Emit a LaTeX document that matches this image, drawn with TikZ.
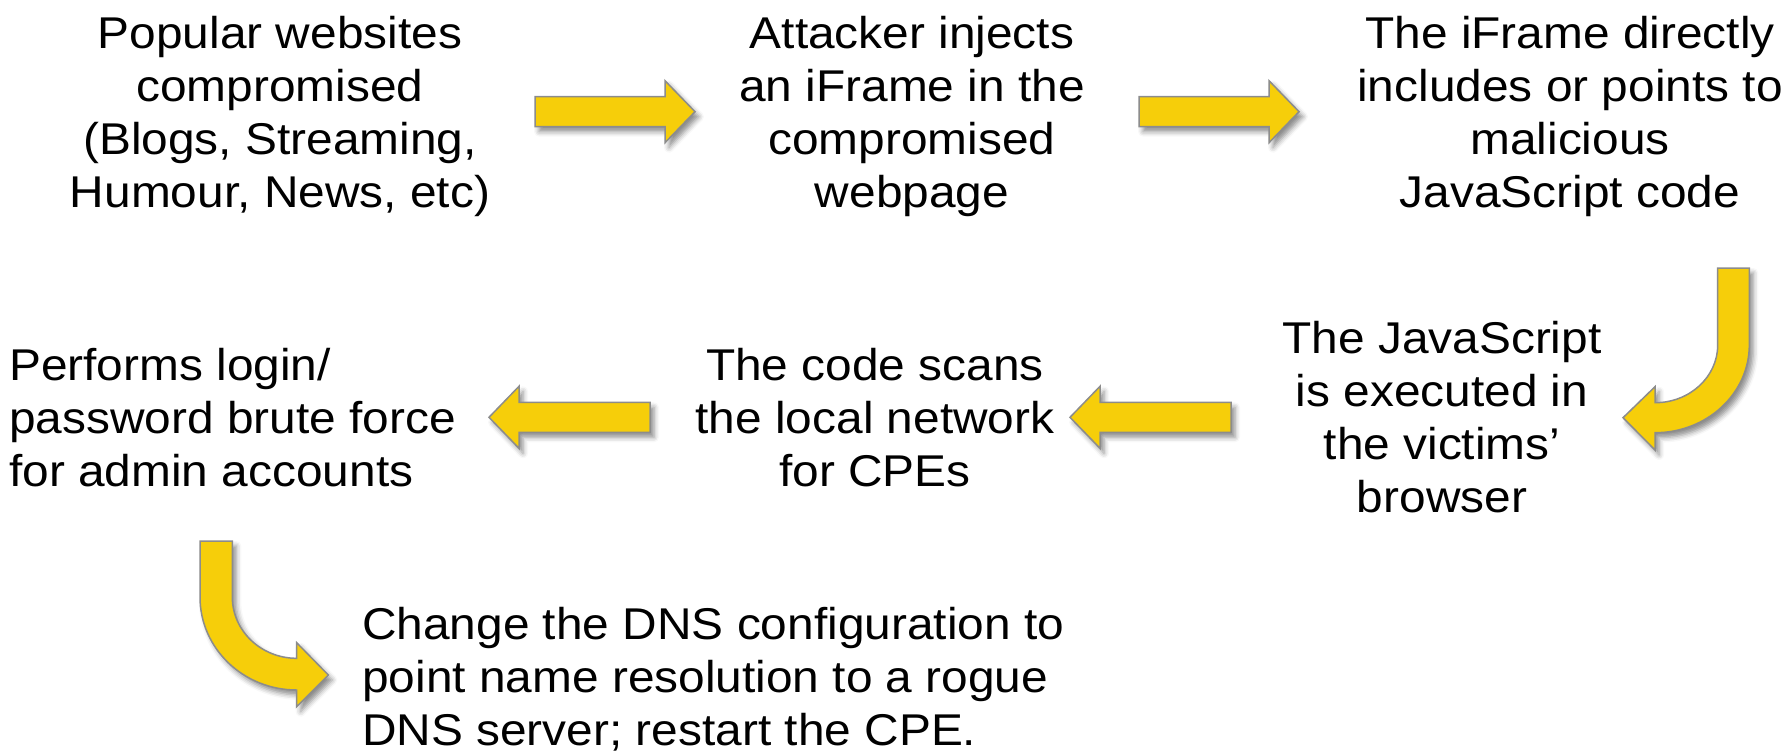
\documentclass[tikz,border=0pt]{standalone}
\usepackage{fontspec}
\setmainfont[FakeStretch=1.075]{Liberation Sans}
\usetikzlibrary{shadows.blur}
\definecolor{arrowfill}{RGB}{246,206,10}
\definecolor{arrowline}{RGB}{140,140,140}
\tikzset{
  blockarrow/.style={fill=arrowfill, draw=arrowline, line width=1.5pt, line join=miter,
    blur shadow={shadow xshift=4pt, shadow yshift=-5pt, shadow blur radius=5pt, shadow opacity=45}},
  labeltext/.style={font=\fontsize{44.5}{53}\selectfont, inner sep=0pt, anchor=base, align=center},
  lefttext/.style={labeltext, align=left, anchor=base west},
  rarrow/.pic={\path[blockarrow] (0,-15) -- (130,-15) -- (130,-31) -- (160,0) -- (130,31) -- (130,15) -- (0,15) -- cycle;},
  larrow/.pic={\path[blockarrow] (0,0) -- (30,-31) -- (30,-15) -- (161,-15) -- (161,15) -- (30,15) -- (30,31) -- cycle;}
}
\begin{document}
\begin{tikzpicture}[x=1pt,y=-1pt]
\useasboundingbox (0,0) rectangle (1790,750);
% text blocks (base anchor = baseline of the last line)
\node[labeltext] (n1) at (280,207.5) {Popular websites\\compromised\\(Blogs, Streaming,\\Humour, News, etc)};
\node[labeltext] (n2) at (912,207.5) {Attacker injects\\an iFrame in the\\compromised\\webpage};
\node[labeltext] (n3) at (1570,207.5) {The iFrame directly\\includes or points to\\malicious\\JavaScript code};
\node[labeltext] (n4) at (1442,512) {The JavaScript\\is executed in\\the victims’\\browser};
\node[labeltext] (n5) at (875,486) {The code scans\\the local network\\for CPEs};
\node[lefttext] (n6) at (9,486) {Performs login/\\password brute force\\for admin accounts};
\node[lefttext] (n7) at (362,745) {Change the DNS configuration to\\point name resolution to a rogue\\DNS server; restart the CPE.};
% straight arrows
\pic at (535,111.7) {rarrow};
\pic at (1139,111.7) {rarrow};
\pic at (1070,417.3) {larrow};
\pic at (489,417.3) {larrow};
% curved arrow right (down then left)
\path[blockarrow] (1717.7,268) -- (1749.3,268) -- (1749.3,345)
  .. controls (1749.3,393.4) and (1707.1,432.7) .. (1655,432.7)
  -- (1655,450) -- (1623,417.7) -- (1655,386.7) -- (1655,402.7)
  .. controls (1689.6,402.7) and (1717.7,376.9) .. (1717.7,345) -- cycle;
% curved arrow left (down then right)
\path[blockarrow] (200,541) -- (200,597)
  .. controls (200,648.4) and (243.3,690) .. (296.7,690)
  -- (296.7,706.7) -- (328.3,675) -- (296.7,642.7) -- (296.7,658.3)
  .. controls (261.1,658.3) and (232.3,630.9) .. (232.3,597) -- (232.3,541) -- cycle;
\end{tikzpicture}
\end{document}
